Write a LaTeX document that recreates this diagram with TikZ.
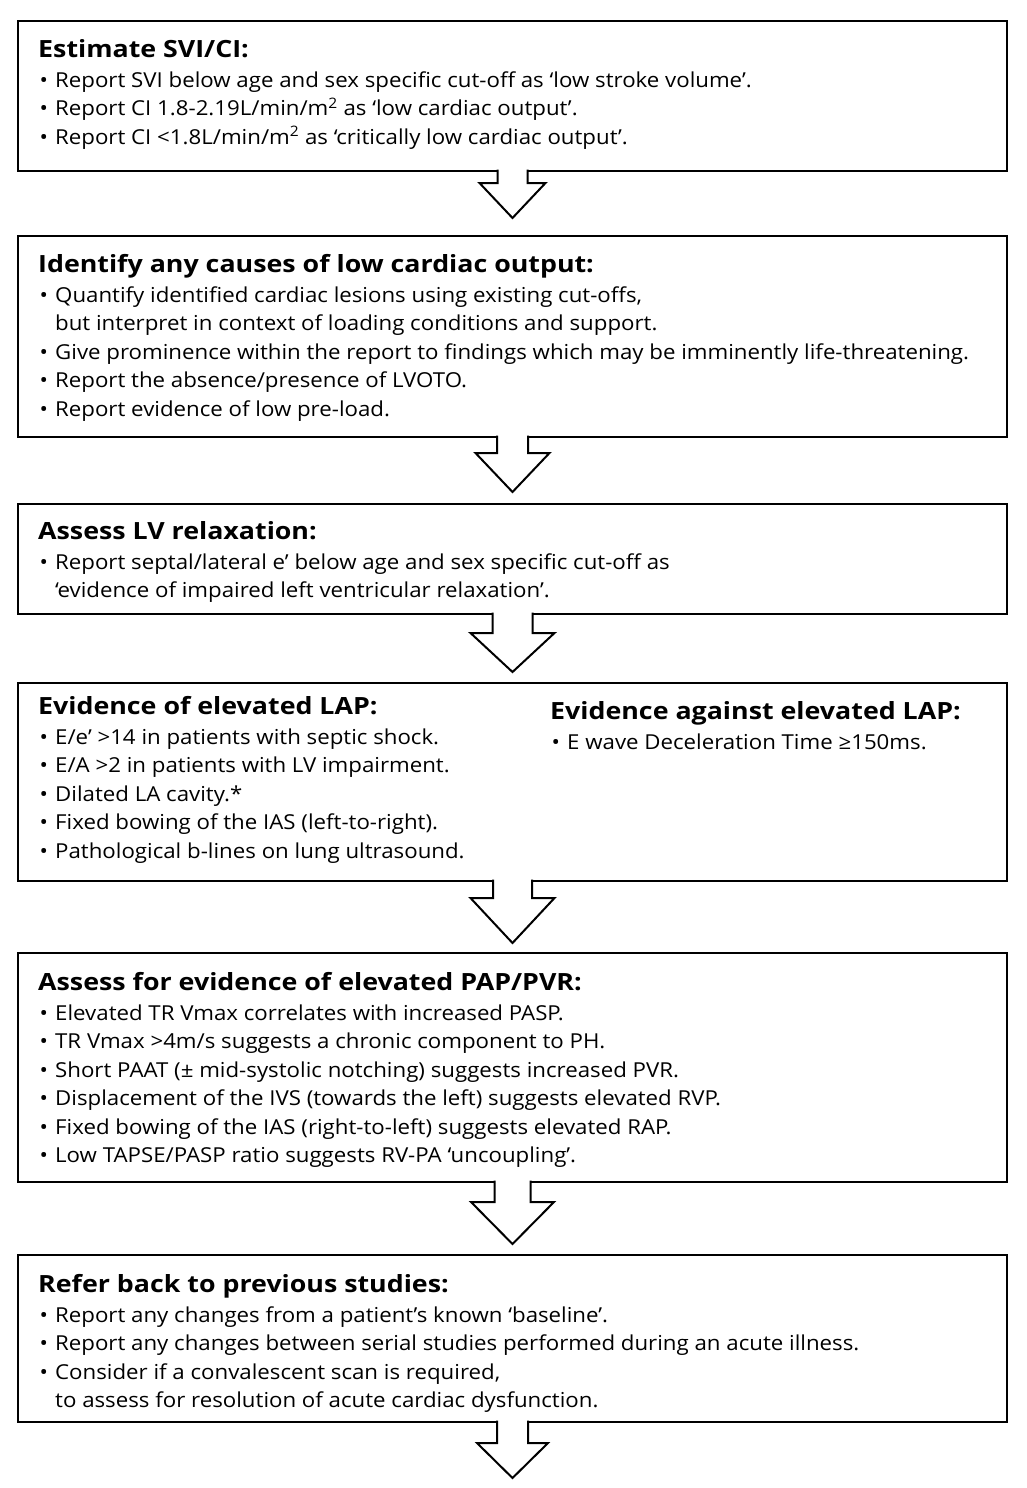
\documentclass[tikz,border=0pt]{standalone}
\usepackage{fontspec}
\setmainfont{Open Sans}[FakeStretch=1.08, BoldFeatures={FakeStretch=1.13}]
\usetikzlibrary{calc,positioning}
\def\blockarrow(#1)(#2:#3:#4:#5){\draw[blockline] ($(#1.south)+({-#4},-1.4)$) -- ($(#1.south)+({-#4},{#2})$) -- ($(#1.south)+({-#5},{#2})$) -- ($(#1.south)+(0,{#2+#3})$) -- ($(#1.south)+({#5},{#2})$) -- ($(#1.south)+({#4},{#2})$) -- ($(#1.south)+({#4},-1.4)$);}
\def\steptitle#1{{\fontsize{23.7}{28.5}\selectfont\bfseries #1}\rule{0pt}{20pt}\\[1.5pt]}
\def\bul{\makebox[17pt][l]{\hspace{1.5pt}\textbullet}}
\def\cont{\hspace*{17pt}}
\tikzset{
	stepbox/.style={draw, line width=2.7pt, anchor=north west, outer sep=0pt, inner sep=0pt, minimum width=989pt},
	steptext/.style={inner sep=0pt, align=left, font=\fontsize{20.6}{28.5}\selectfont},
	blockline/.style={line width=2pt, fill=white, line join=miter},
}

\begin{document}
\begin{tikzpicture}[x=1pt, y=-1pt]
		%%%%% START %%%%%
		\useasboundingbox[fill=white] (0, 0) rectangle (1026, 1488);
		
		\node[stepbox, minimum height=150pt] (svi) at (18, 21) {};
		\node[stepbox, minimum height=201pt] (causes) at (18, 236) {};
		\node[stepbox, minimum height=110pt] (relax) at (18, 504) {};
		\node[stepbox, minimum height=198pt] (lap) at (18, 683) {};
		\node[stepbox, minimum height=229pt] (pap) at (18, 953) {};
		\node[stepbox, minimum height=167pt] (prior) at (18, 1255) {};
		
		\node[steptext, below right=16pt and 20pt of svi.north west] (svitext) {\steptitle{Estimate SVI/CI:}
			\bul Report SVI below age and sex specific cut-off as ‘low stroke volume’.\\
			\bul Report CI 1.8-2.19L/min/m\textsuperscript{2} as ‘low cardiac output’.\\
			\bul Report CI <1.8L/min/m\textsuperscript{2} as ‘critically low cardiac output’.};
		
		\node[steptext, below right=16pt and 20pt of causes.north west] (causestext) {\steptitle{Identify any causes of low cardiac output:}
			\bul Quantify identified cardiac lesions using existing cut-offs,\\
			\cont but interpret in context of loading conditions and support.\\
			\bul Give prominence within the report to findings which may be imminently life-threatening.\\
			\bul Report the absence/presence of LVOTO.\\
			\bul Report evidence of low pre-load.};
		
		\node[steptext, below right=15pt and 20pt of relax.north west] (relaxtext) {\steptitle{Assess LV relaxation:}
			\bul Report septal/lateral e’ below age and sex specific cut-off as\\
			\cont ‘evidence of impaired left ventricular relaxation’.};
		
		\node[steptext, below right=11pt and 20pt of lap.north west] (lapfor) {\steptitle{Evidence of elevated LAP:}
			\bul E/e’ >14 in patients with septic shock.\\
			\bul E/A >2 in patients with LV impairment.\\
			\bul Dilated LA cavity.*\\
			\bul Fixed bowing of the IAS (left-to-right).\\
			\bul Pathological b-lines on lung ultrasound.};
		\node[steptext, below right=16pt and 532pt of lap.north west] (lapagainst) {\steptitle{Evidence against elevated LAP:}
			\bul E wave Deceleration Time ≥150ms.};
		
		\node[steptext, below right=17pt and 20pt of pap.north west] (paptext) {\steptitle{Assess for evidence of elevated PAP/PVR:}
			\bul Elevated TR Vmax correlates with increased PASP.\\
			\bul TR Vmax >4m/s suggests a chronic component to PH.\\
			\bul Short PAAT (± mid-systolic notching) suggests increased PVR.\\
			\bul Displacement of the IVS (towards the left) suggests elevated RVP.\\
			\bul Fixed bowing of the IAS (right-to-left) suggests elevated RAP.\\
			\bul Low TAPSE/PASP ratio suggests RV-PA ‘uncoupling’.};
		
		\node[steptext, below right=17pt and 20pt of prior.north west] (priortext) {\steptitle{Refer back to previous studies:}
			\bul Report any changes from a patient’s known ‘baseline’.\\
			\bul Report any changes between serial studies performed during an acute illness.\\
			\bul Consider if a convalescent scan is required,\\
			\cont to assess for resolution of acute cardiac dysfunction.};
		
		% arrows between the steps
		\blockarrow(svi)(12:35:15:33)
		\blockarrow(causes)(16:39:15.5:37)
		\blockarrow(relax)(19:39:20:42)
		\blockarrow(lap)(17:45:19.5:42)
		\blockarrow(pap)(20:42:18:41.5)
		\blockarrow(prior)(21:35:15.5:35.5)
		
		%%%%% END %%%%%
	\end{tikzpicture}
\end{document}
